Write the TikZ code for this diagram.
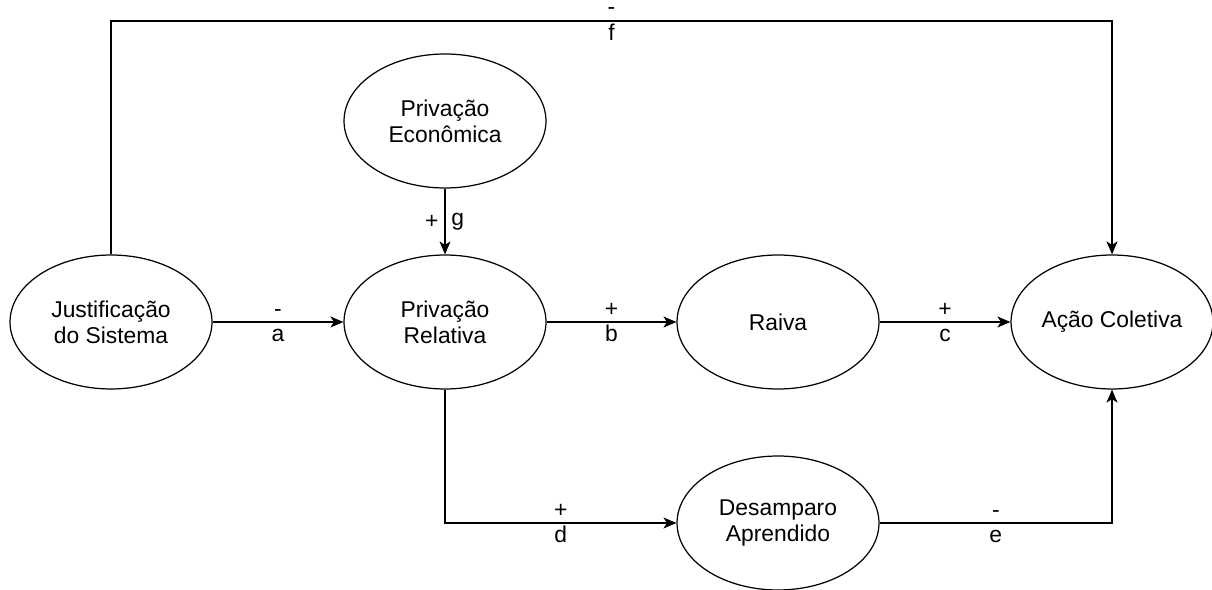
\documentclass[tikz,border=0pt]{standalone}
\usepackage{fontspec}
\setmainfont{Liberation Sans}
\usetikzlibrary{shapes.geometric,arrows.meta}

\begin{document}
\begin{tikzpicture}[x=0.02cm, y=-0.02cm,
	every node/.style={font=\fontsize{13}{14.8}\selectfont},
	var/.style={draw, ellipse, line width=0.7pt, minimum width=4.04cm, minimum height=2.68cm, inner sep=0pt, align=center},
	link/.style={line width=0.7pt, -{Stealth[length=0.26cm, width=0.22cm, inset=0.07cm]}},
	up/.style={above=2.7pt, inner sep=0pt, text depth=0pt},
	down/.style={below=3.5pt, inner sep=0pt, text height=0.72em, text depth=0pt}]

	\useasboundingbox (0,0) rectangle (1212,590);

	\node[var] (just) at (111,322) {Justificação\\do Sistema};
	\node[var] (rel) at (445,322) {Privação\\Relativa};
	\node[var] (econ) at (445,121) {Privação\\Econômica};
	\node[var] (raiva) at (778,322) {Raiva};
	\node[var] (acao) at (1112,322) {Ação Coletiva};
	\node[var] (desamp) at (778,523) {Desamparo\\Aprendido};

	\coordinate (fy) at (0,21);

	\draw[link] (just) -- node[up]{-} node[down]{a} (rel);
	\draw[link] (rel) -- node[up]{+} node[down]{b} (raiva);
	\draw[link] (raiva) -- node[up]{+} node[down]{c} (acao);
	\draw[link] (rel) |- node[pos=0.75, up]{+} node[pos=0.75, down]{d} (desamp);
	\draw[link] (desamp) -| node[pos=0.25, up]{-} node[pos=0.25, down]{e} (acao);
	\draw[link] (just) -- (just |- fy) -- node[up, above=0.6pt]{-} node[down]{f} (acao |- fy) -- (acao);
	\draw[link] (econ) -- node[left]{+} node[right]{g} (rel);

\end{tikzpicture}
\end{document}
